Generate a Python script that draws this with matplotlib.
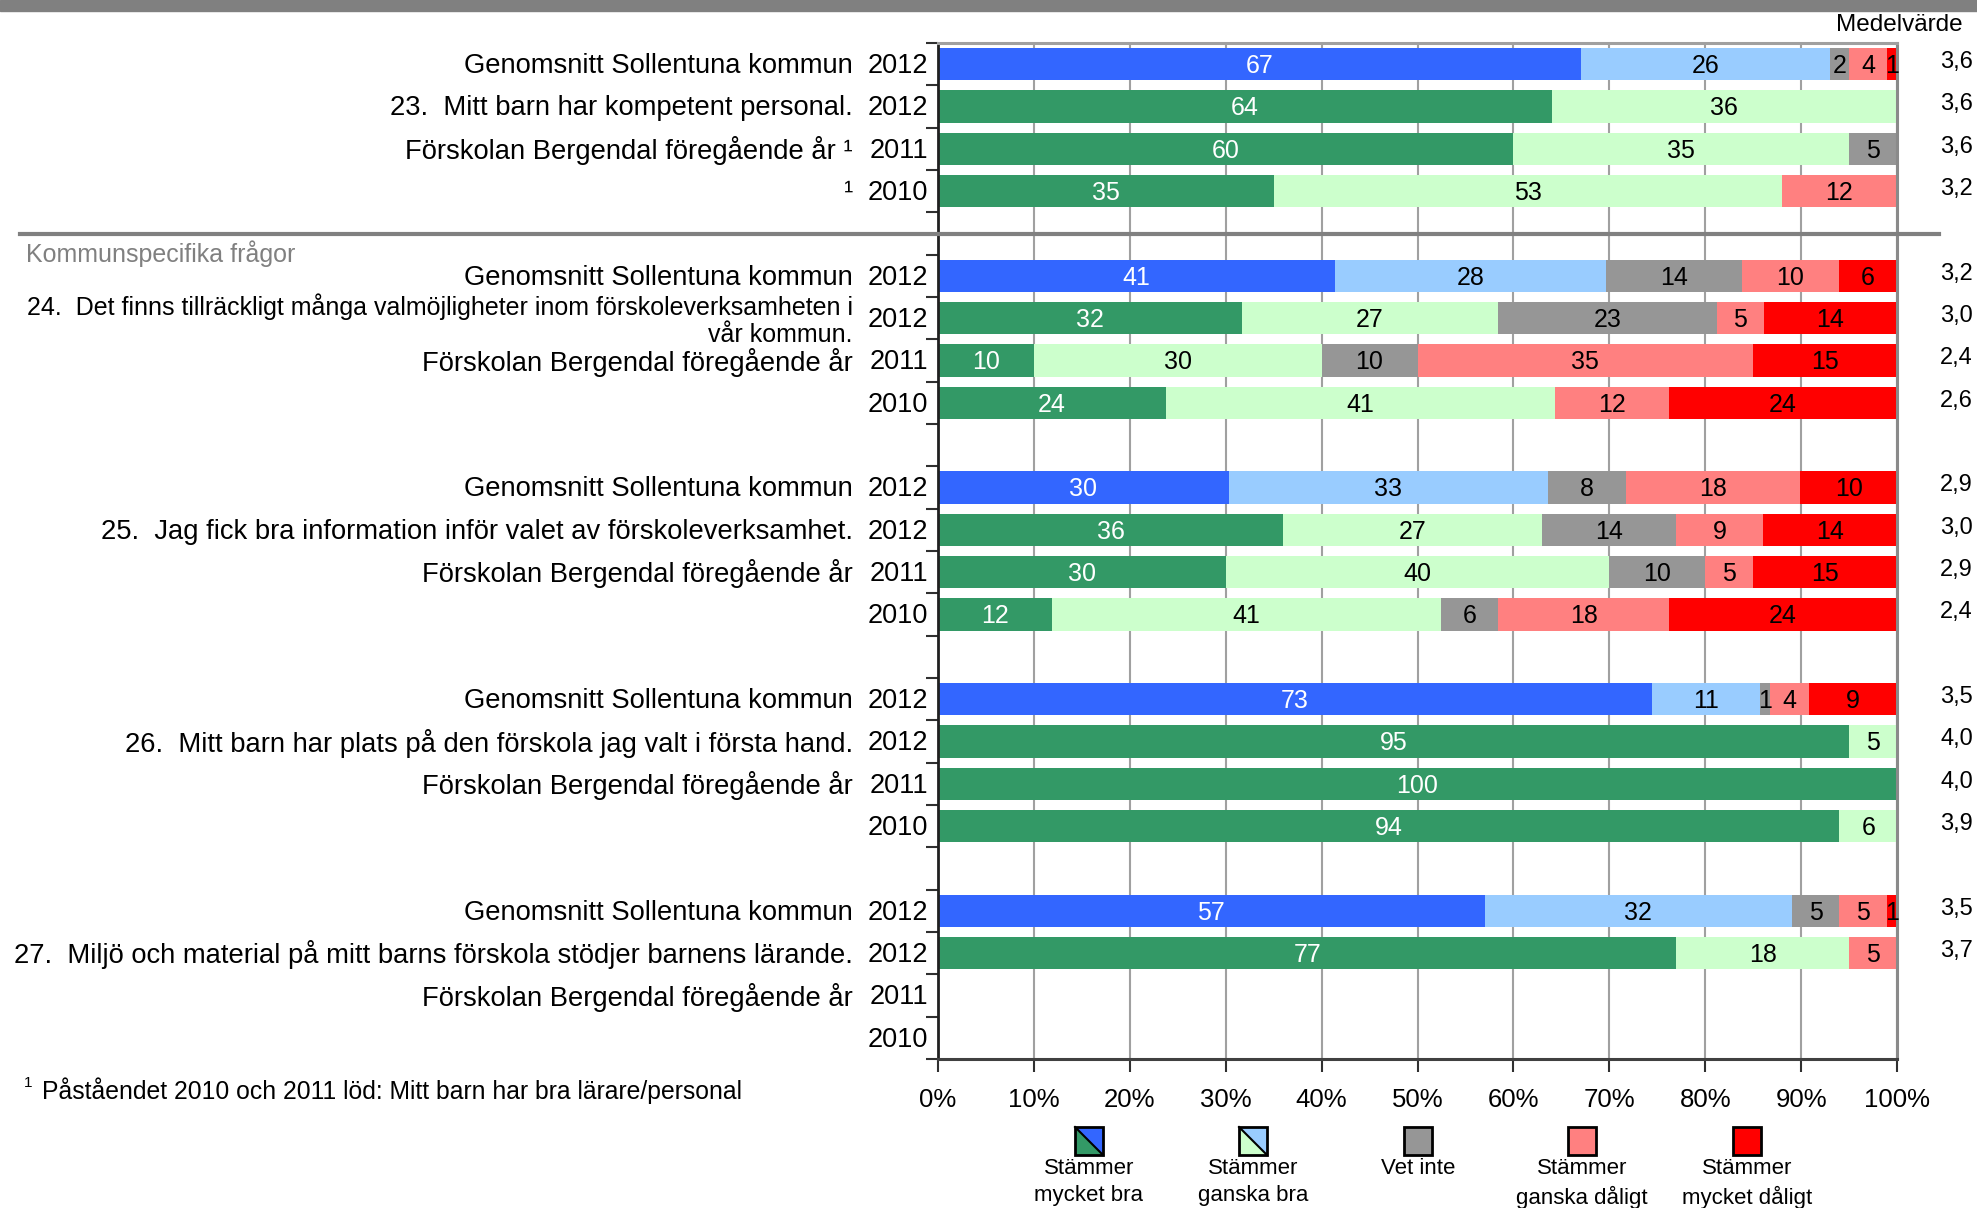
import matplotlib
matplotlib.use("Agg")
import matplotlib.pyplot as plt
import matplotlib.transforms as mtransforms
from matplotlib.patches import Rectangle, Polygon
from matplotlib.lines import Line2D

plt.rcParams['font.family'] = ['Liberation Sans', 'DejaVu Sans']

# etiketter, 4 rader per fråga
etiketter = [
    "Genomsnitt Sollentuna kommun", "23.  Mitt barn har kompetent personal.",
    "Förskolan Bergendal föregående år ¹", "¹",
    "Genomsnitt Sollentuna kommun",
    "24.  Det finns tillräckligt många valmöjligheter inom förskoleverksamheten i\nvår kommun.",
    "Förskolan Bergendal föregående år", "",
    "Genomsnitt Sollentuna kommun", "25.  Jag fick bra information inför valet av förskoleverksamhet.",
    "Förskolan Bergendal föregående år", "",
    "Genomsnitt Sollentuna kommun", "26.  Mitt barn har plats på den förskola jag valt i första hand.",
    "Förskolan Bergendal föregående år", "",
    "Genomsnitt Sollentuna kommun", "27.  Miljö och material på mitt barns förskola stödjer barnens lärande.",
    "Förskolan Bergendal föregående år", "",
]
ar = ["2012", "2012", "2011", "2010"] * 5
kommun = [True, False, False, False] * 5

mycket_bra    = [67, 64, 60, 35,  41, 32, 10, 24,  30, 36, 30, 12,  73, 95, 100, 94,  57, 77, 0, 0]
ganska_bra    = [26, 36, 35, 53,  28, 27, 30, 41,  33, 27, 40, 41,  11, 5, 0, 6,     32, 18, 0, 0]
vet_inte      = [2, 0, 5, 0,      14, 23, 10, 0,   8, 14, 10, 6,    1, 0, 0, 0,      5, 0, 0, 0]
ganska_daligt = [4, 0, 0, 12,     10, 5, 35, 12,   18, 9, 5, 18,    4, 0, 0, 0,      5, 5, 0, 0]
mycket_daligt = [1, 0, 0, 0,      6, 14, 15, 24,   10, 14, 15, 24,  9, 0, 0, 0,      1, 0, 0, 0]
medel = ["3,6", "3,6", "3,6", "3,2", "3,2", "3,0", "2,4", "2,6", "2,9", "3,0",
         "2,9", "2,4", "3,5", "4,0", "4,0", "3,9", "3,5", "3,7", "", ""]

legend_text = ["Stämmer\nmycket bra", "Stämmer\nganska bra", "Vet inte",
               "Stämmer\nganska dåligt", "Stämmer\nmycket dåligt"]

BLUE, LBLUE = "#3366FF", "#99CCFF"
GREEN, LGREEN = "#339966", "#CCFFCC"
GRAY, PINK, RED = "#969696", "#FF8080", "#FF0000"

W, H = 1977, 1208
fig = plt.figure(figsize=(W / 100, H / 100), dpi=100)
ax = fig.add_axes([938 / W, 1 - 1059 / H, (1897 - 938) / W, (1059 - 43) / H])

# grå list överst
fig.patches.append(Rectangle((0, 1 - 11 / H), 1, 11 / H, transform=fig.transFigure,
                             color="#808080", zorder=0))

slots = [i + i // 4 for i in range(20)]
dy = 0.04  # text lite nedåt, som i förlagan
for i, s in enumerate(slots):
    vals = [mycket_bra[i], ganska_bra[i], vet_inte[i], ganska_daligt[i], mycket_daligt[i]]
    tot = sum(vals)
    if tot == 0:
        continue
    cols = [BLUE, LBLUE] if kommun[i] else [GREEN, LGREEN]
    cols = cols + [GRAY, PINK, RED]
    left = 0
    for k, v in enumerate(vals):
        if v == 0:
            continue
        w = v / tot * 100
        ax.barh(s, w, left=left, height=0.77, color=cols[k], zorder=2)
        ax.text(left + w / 2, s + dy, str(v), ha="center", va="center", fontsize=18,
                color="white" if k == 0 else "black", zorder=3)
        left += w

ax.set_xlim(0, 100)
ax.set_ylim(23.5, -0.5)
ax.set_xticks(range(0, 101, 10))
ax.set_xticklabels([f"{t}%" for t in range(0, 101, 10)], fontsize=18.5)
ax.set_yticks([y - 0.5 for y in range(25)])
ax.set_yticklabels([])
ax.tick_params(axis="x", length=9, width=1.5, pad=12, color="#303030")
ax.tick_params(axis="y", length=9, width=1.5, color="#303030")
ax.grid(axis="x", color="#A0A0A0", linewidth=1.5, zorder=1)
ax.set_axisbelow(True)
ax.spines["left"].set_color("#202020")
ax.spines["left"].set_linewidth(2)
ax.spines["bottom"].set_color("#404040")
ax.spines["bottom"].set_linewidth(2.2)
ax.spines["top"].set_color("#A0A0A0")
ax.spines["top"].set_linewidth(2.2)
ax.spines["right"].set_color("#8A8A8A")
ax.spines["right"].set_linewidth(2.2)

tr = mtransforms.blended_transform_factory(fig.transFigure, ax.transData)
for i, s in enumerate(slots):
    fig.text(928 / W, s + dy, ar[i], ha="right", va="center", fontsize=19.5, transform=tr)
    if etiketter[i]:
        fs = 18 if "\n" in etiketter[i] else 19.7
        fig.text(853 / W, s + dy, etiketter[i], ha="right", va="center", fontsize=fs,
                 multialignment="right", linespacing=1.15, transform=tr)
    if medel[i]:
        fig.text(1973 / W, s - 0.05, medel[i], ha="right", va="center", fontsize=17,
                 transform=tr)

# avdelare mellan standardfrågor och kommunspecifika frågor
fig.lines.append(Line2D([20 / W, 1939 / W], [4, 4], transform=tr, color="#808080",
                        linewidth=3, zorder=1))
fig.text(26 / W, 1 - 254 / H, "Kommunspecifika frågor", ha="left", va="center",
         fontsize=18, color="#808080")

fig.text(1963 / W, 1 - 25 / H, "Medelvärde", ha="right", va="center", fontsize=17.5)

fig.text(24 / W, 1 - 1083 / H, "1", ha="left", va="center", fontsize=11)
fig.text(42 / W, 1 - 1091 / H, "Påståendet 2010 och 2011 löd: Mitt barn har bra lärare/personal",
         ha="left", va="center", fontsize=17.8)

# förklaring
leg_x = [1089, 1253, 1418, 1582, 1747]
leg_cols = [(GREEN, BLUE), (LGREEN, LBLUE), (GRAY, GRAY), (PINK, PINK), (RED, RED)]
bw, bh, btop = 28, 28, 1127
for k, cx in enumerate(leg_x):
    x0 = (cx - bw / 2) / W
    x1 = (cx + bw / 2) / W
    y1 = 1 - btop / H
    y0 = 1 - (btop + bh) / H
    lo, hi = leg_cols[k]
    if lo != hi:
        fig.patches.append(Polygon([(x0, y1), (x0, y0), (x1, y0)], closed=True,
                                   transform=fig.transFigure, facecolor=lo, edgecolor="none"))
        fig.patches.append(Polygon([(x0, y1), (x1, y1), (x1, y0)], closed=True,
                                   transform=fig.transFigure, facecolor=hi, edgecolor="none"))
        fig.lines.append(Line2D([x0, x1], [y1, y0], transform=fig.transFigure,
                                color="black", linewidth=1.5))
        fc = "none"
    else:
        fc = lo
    fig.patches.append(Rectangle((x0, y0), x1 - x0, y1 - y0, transform=fig.transFigure,
                                 facecolor=fc, edgecolor="black", linewidth=2))
    fig.text(cx / W, 1 - 1158 / H, legend_text[k], ha="center", va="top", fontsize=16,
             linespacing=1.4)

fig.savefig("out.png", dpi=100)
